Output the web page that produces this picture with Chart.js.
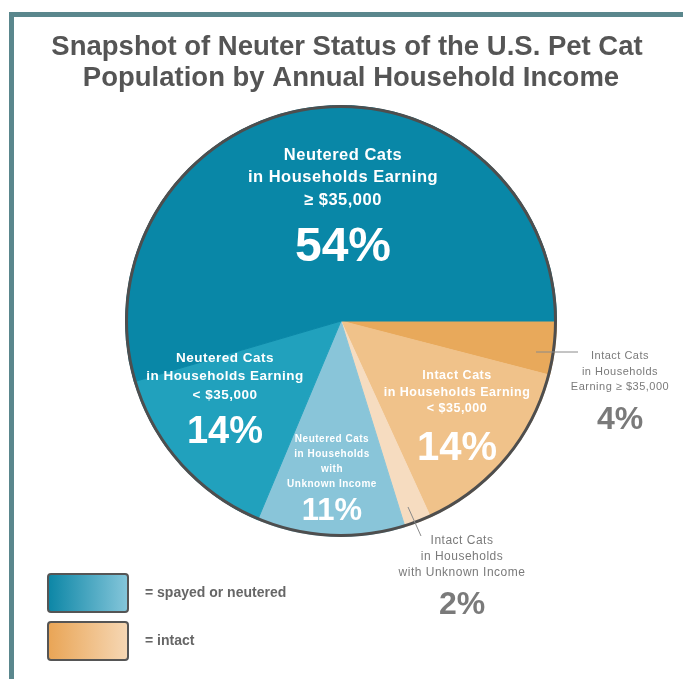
<!DOCTYPE html>
<html>
<head>
<meta charset="utf-8">
<script src="https://cdn.jsdelivr.net/npm/chart.js@4/dist/chart.umd.min.js"></script>
<style>
  html, body { margin: 0; padding: 0; background: #fff; }
  #frame { position: absolute; left: 9px; top: 12px; width: 700px; height: 700px;
           border-top: 5px solid #5a878d; border-left: 5px solid #5a878d; }
  #wrap { position: absolute; left: 0; top: 0; width: 683px; height: 679px; }
</style>
</head>
<body>
<div id="frame"></div>
<div id="wrap"><canvas id="pie" width="683" height="679"></canvas></div>
<script>
// slices, clockwise from 3 o'clock
const categories = [
  ['Intact Cats', 'in Households', 'Earning ≥ $35,000'],
  ['Intact Cats', 'in Households Earning', '< $35,000'],
  ['Intact Cats', 'in Households', 'with Unknown Income'],
  ['Neutered Cats', 'in Households', 'with', 'Unknown Income'],
  ['Neutered Cats', 'in Households Earning', '< $35,000'],
  ['Neutered Cats', 'in Households Earning', '≥ $35,000']
];
const shares = [4, 14, 2, 11, 14, 54];
const sliceColors = ['#e8a95b', '#f0c28a', '#f6dcc0', '#89c5d9', '#21a1bd', '#0987a7'];
const titleLines = ['Snapshot of Neuter Status of the U.S. Pet Cat', 'Population by Annual Household Income'];
const legendLabels = ['= spayed or neutered', '= intact'];

// where each slice's text goes (canvas pixels)
const labelPos = [
  { x: 620, y: 356, gap: 15.5, font: '11px', color: '#7a7a7a', py: 420, psize: 32, lead: [536, 352, 578, 352] },
  { x: 457, y: 376, gap: 16.5, font: 'bold 12.5px', color: '#fff', py: 449, psize: 40 },
  { x: 462, y: 541, gap: 16, font: '12px', color: '#7a7a7a', py: 605, psize: 32, lead: [408, 507, 421, 536] },
  { x: 332, y: 439, gap: 15, font: 'bold 10px', color: '#fff', py: 511, psize: 31 },
  { x: 225, y: 358, gap: 18.5, font: 'bold 13.5px', color: '#fff', py: 433, psize: 38 },
  { x: 343, y: 155, gap: 22.5, font: 'bold 16.5px', color: '#fff', py: 248, psize: 48 }
];

const decor = {
  id: 'decor',
  afterDraw(chart) {
    const ctx = chart.ctx;
    const arc = chart.getDatasetMeta(0).data[0];
    ctx.save();
    // outer ring
    ctx.beginPath();
    ctx.arc(arc.x, arc.y, arc.outerRadius - 1, 0, Math.PI * 2);
    ctx.lineWidth = 3;
    ctx.strokeStyle = '#4e4e4e';
    ctx.stroke();

    // title
    ctx.fillStyle = '#555';
    ctx.font = 'bold 27.5px "Liberation Sans", Arial, sans-serif';
    ctx.textAlign = 'center';
    ctx.textBaseline = 'middle';
    ctx.fillText(titleLines[0], 347, 47);
    ctx.fillText(titleLines[1], 351, 78);

    // slice labels
    categories.forEach((lines, i) => {
      const p = labelPos[i];
      if (p.lead) {
        ctx.beginPath();
        ctx.moveTo(p.lead[0], p.lead[1]);
        ctx.lineTo(p.lead[2], p.lead[3]);
        ctx.lineWidth = 1;
        ctx.strokeStyle = '#8a8a8a';
        ctx.stroke();
      }
      ctx.fillStyle = p.color;
      ctx.font = p.font + ' "Liberation Sans", Arial, sans-serif';
      ctx.letterSpacing = '0.5px';
      lines.forEach((t, j) => ctx.fillText(t, p.x, p.y + j * p.gap));
      ctx.letterSpacing = '0px';
      ctx.font = 'bold ' + p.psize + 'px "Liberation Sans", Arial, sans-serif';
      ctx.fillText(shares[i] + '%', p.x, p.py);
    });

    // legend
    const boxes = [['#0a85a5', '#87c7db'], ['#e9a454', '#f6d8b6']];
    boxes.forEach((c, k) => {
      const y = 574 + k * 48;
      const g = ctx.createLinearGradient(47, 0, 129, 0);
      g.addColorStop(0, c[0]);
      g.addColorStop(1, c[1]);
      ctx.fillStyle = g;
      ctx.beginPath();
      ctx.roundRect(48, y, 80, 38, 3);
      ctx.fill();
      ctx.lineWidth = 2;
      ctx.strokeStyle = '#555';
      ctx.stroke();
      ctx.fillStyle = '#666';
      ctx.font = 'bold 14px "Liberation Sans", Arial, sans-serif';
      ctx.textAlign = 'left';
      ctx.fillText(legendLabels[k], 145, y + 19);
      ctx.textAlign = 'center';
    });
    ctx.restore();
  }
};

new Chart(document.getElementById('pie'), {
  type: 'pie',
  data: {
    labels: categories,
    datasets: [{
      data: shares,
      backgroundColor: sliceColors,
      borderColor: sliceColors,
      borderWidth: 1
    }]
  },
  options: {
    responsive: false,
    animation: false,
    rotation: 90,
    layout: { padding: { left: 125, top: 105, right: 126, bottom: 142 } },
    plugins: {
      legend: { display: false },
      tooltip: { enabled: false },
      title: { display: false }
    }
  },
  plugins: [decor]
});
</script>
</body>
</html>
